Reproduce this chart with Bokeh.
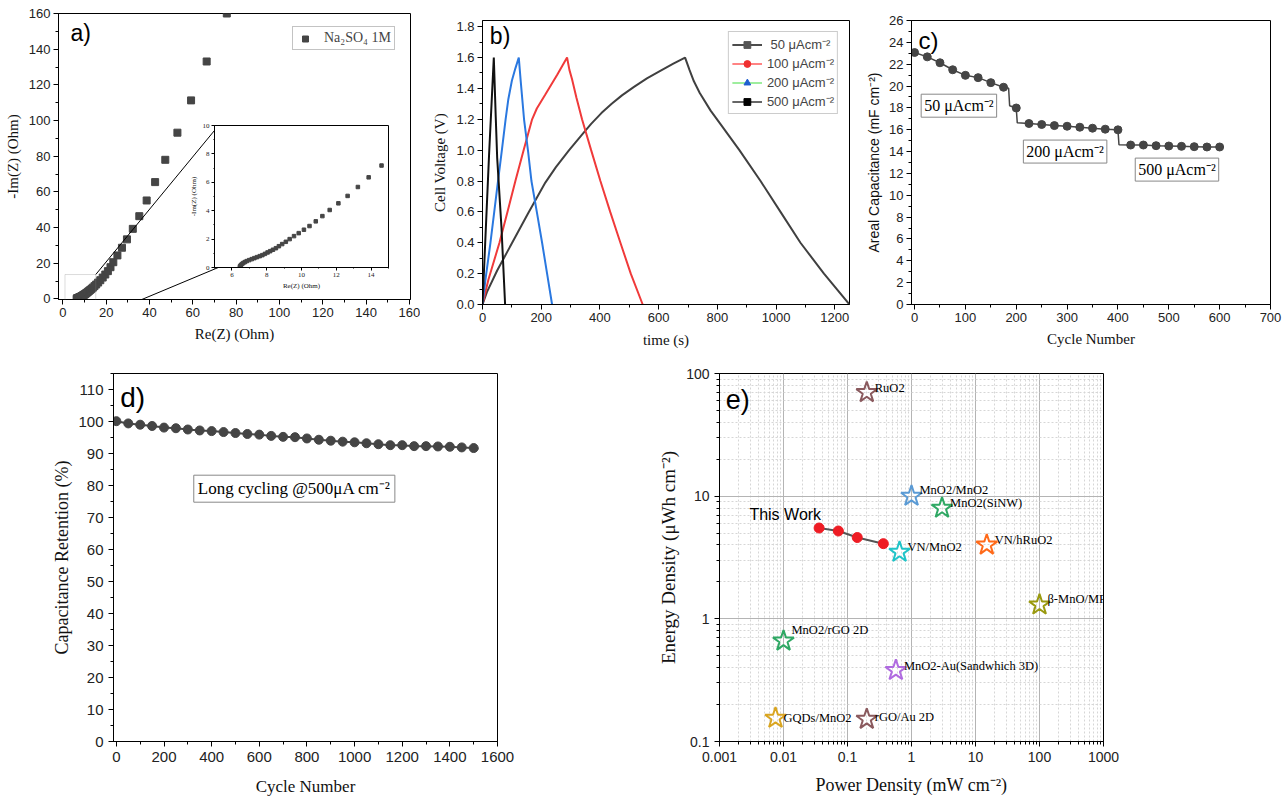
from bokeh.plotting import figure
from bokeh.models import (Range1d, Label, Legend, LegendItem, PrintfTickFormatter,
                          SingleIntervalTicker, CustomJSTickFormatter, BoxAnnotation)
from bokeh.layouts import row, column
from bokeh.embed import file_html
from bokeh.resources import INLINE
from bokeh.core.properties import value

SANS = "Liberation Sans"
SERIF = "Liberation Serif"
NAN = float("nan")

# ---------------- data ----------------
# a) Nyquist plot
re_z = [6.46, 6.47, 6.51, 6.57, 6.65, 6.74, 6.85, 6.99, 7.14, 7.29, 7.44, 7.60, 7.75, 7.90,
        8.05, 8.20, 8.36, 8.53, 8.70, 8.89, 9.10, 9.32, 9.57, 9.84, 10.14, 10.46, 10.82,
        11.20, 11.62, 12.12, 12.65, 13.24, 13.86, 14.60, 15.4, 16.3, 17.3, 18.4, 19.6,
        20.8, 22.0, 23.3, 25.2, 27.3, 29.6, 32.3, 35.3, 38.7, 42.6, 47.3, 52.9, 59.2, 66.4, 75.7]
im_z = [0.02, 0.09, 0.16, 0.24, 0.31, 0.38, 0.45, 0.52, 0.59, 0.66, 0.73, 0.80, 0.87, 0.96,
        1.06, 1.15, 1.25, 1.36, 1.50, 1.65, 1.81, 2.00, 2.21, 2.42, 2.66, 2.92, 3.25,
        3.62, 4.05, 4.52, 5.04, 5.67, 6.35, 7.18, 8.1, 9.2, 10.5, 12.0, 13.7,
        15.6, 17.8, 20.6, 24.4, 28.7, 33.4, 39.3, 46.4, 55.2, 65.5, 78.0, 93.2, 111.3, 133.1, 160.0]
# zoom box and connector lines (data coords of panel a)
zoom_box = dict(left=1.0, right=15.2, bottom=-11.1, top=13.7)
link_x0 = [15.2, 15.2]
link_y0 = [13.7, -11.1]
link_x1 = [72.1, 72.1]
link_y1 = [97.5, 17.8]

# b) galvanostatic charge/discharge
t_50 = [0, 15, 50, 101, 155, 214, 250, 295, 339, 370, 405, 440, 475, 516, 560, 607, 650, 690,
        705, 720, 740, 777, 810, 875, 947, 1015, 1083, 1163, 1250]
v_50 = [0, 0.08, 0.22, 0.40, 0.59, 0.79, 0.89, 1.00, 1.10, 1.17, 1.24, 1.30, 1.355, 1.41, 1.465,
        1.515, 1.56, 1.60, 1.52, 1.446, 1.37, 1.256, 1.17, 1.00, 0.80, 0.60, 0.40, 0.20, 0]
t_100 = [0, 20, 57.7, 85, 112, 140, 169, 185, 214, 255, 288, 296, 305, 320, 339, 370, 401.6,
         435, 469.7, 505, 545.6]
v_100 = [0, 0.16, 0.40, 0.60, 0.80, 1.00, 1.20, 1.27, 1.36, 1.49, 1.60, 1.52, 1.46, 1.34, 1.20,
         1.00, 0.80, 0.60, 0.40, 0.20, 0]
t_200 = [0, 10, 27, 40, 52.8, 66, 78.7, 88, 100, 112, 123.6, 130, 141.5, 156, 166.7, 185, 203,
         220, 237]
v_200 = [0, 0.16, 0.40, 0.60, 0.80, 1.00, 1.20, 1.33, 1.45, 1.53, 1.60, 1.45, 1.20, 0.98, 0.80,
         0.60, 0.40, 0.20, 0]
t_500 = [0, 22.6, 38.5, 45, 50, 64.6, 77]
v_500 = [0, 0.98, 1.60, 1.22, 0.95, 0.50, 0]
b_legend_labels = [" 50 \u03bcAcm\u207b\u00b2", "100 \u03bcAcm\u207b\u00b2",
                   "200 \u03bcAcm\u207b\u00b2", "500 \u03bcAcm\u207b\u00b2"]

# c) rate capability
c_cycles = [0, 25, 50, 75, 100, 125, 150, 175, 200, 225, 250, 275, 300, 325, 350, 375, 400,
            425, 450, 475, 500, 525, 550, 575, 600]
c_cap = [23.07, 22.67, 22.13, 21.49, 20.98, 20.77, 20.31, 19.89, 17.99, 16.57, 16.48, 16.38,
         16.32, 16.23, 16.14, 16.05, 15.99, 14.60, 14.60, 14.54, 14.51, 14.48, 14.45, 14.42, 14.42]
c_line_x = [0, 25, 50, 75, 100, 125, 150, 175, 185, 187, 200, 202, 225, 250, 275, 300, 325,
            350, 375, 400, 402, 425, 450, 475, 500, 525, 550, 575, 600]
c_line_y = [23.07, 22.67, 22.13, 21.49, 20.98, 20.77, 20.31, 19.89, 19.8, 18.2, 17.99, 16.63,
            16.57, 16.48, 16.38, 16.32, 16.23, 16.14, 16.05, 15.99, 14.62, 14.60, 14.60, 14.54,
            14.51, 14.48, 14.45, 14.42, 14.42]
c_box_labels = ["50 \u03bcAcm\u207b\u00b2", "200 \u03bcAcm\u207b\u00b2", "500 \u03bcAcm\u207b\u00b2"]

# d) long cycling
d_cycles = [0, 50, 100, 150, 200, 250, 300, 350, 400, 450, 500, 550, 600, 650, 700, 750, 800,
            850, 900, 950, 1000, 1050, 1100, 1150, 1200, 1250, 1300, 1350, 1400, 1450, 1500]
d_ret = [100.1, 99.4, 99.0, 98.6, 98.1, 97.9, 97.5, 97.2, 97.0, 96.7, 96.4, 96.1, 95.9, 95.5,
         95.2, 95.1, 94.7, 94.3, 94.0, 93.7, 93.5, 93.2, 92.9, 92.6, 92.6, 92.3, 92.3, 92.2,
         92.1, 91.9, 91.7]
d_line_end = (1520, 91.5)

# e) Ragone plot
tw_power = [0.036, 0.072, 0.142, 0.363]
tw_energy = [5.5, 5.2, 4.6, 4.1]
ref_names = ["RuO2", "MnO2/MnO2", "MnO2(SiNW)", "VN/MnO2", "VN/hRuO2", "\u03b2-MnO/MPC",
             "MnO2/rGO 2D", "MnO2-Au(Sandwhich 3D)", "GQDs/MnO2", "rGO/Au 2D"]
ref_power = [0.2, 1.0, 3.0, 0.65, 15, 100, 0.01, 0.57, 0.0075, 0.2]
ref_energy = [70, 10, 8, 3.5, 4, 1.3, 0.66, 0.38, 0.155, 0.152]
ref_colors = ["#8a5a5e", "#5b9bd5", "#2fa864", "#20c4c8", "#ff6a1a", "#9a9a10",
              "#2fa864", "#b06be0", "#d9a520", "#8a5a5e"]
ref_label_dy = [-5, -6, -5, -5, -5, -6, -11, -4, 0, -2]


# ---------------- helpers ----------------
def base_fig(width, height, xr, yr, l, r, t, b, **kw):
    p = figure(width=width, height=height, x_range=xr, y_range=yr,
               output_backend="svg", toolbar_location=None,
               min_border_left=l, min_border_right=r, min_border_top=t, min_border_bottom=b, **kw)
    p.background_fill_color = "white"
    p.border_fill_color = "white"
    p.outline_line_color = "black"
    p.outline_line_alpha = 1.0
    p.outline_line_width = 1
    p.grid.visible = False
    return p


def style_axis(ax, label, font, lsize, tsize, lstand, tstand=3, tick_font=SANS):
    ax.axis_label = label
    ax.axis_label_text_font = font
    ax.axis_label_text_font_size = f"{lsize}px"
    ax.axis_label_text_font_style = "normal"
    ax.axis_label_text_color = "#111111"
    ax.axis_label_standoff = lstand
    ax.major_label_text_font = tick_font
    ax.major_label_text_font_size = f"{tsize}px"
    ax.major_label_text_color = "#222222"
    ax.major_label_standoff = tstand
    ax.axis_line_color = "black"
    ax.major_tick_line_color = "black"
    ax.minor_tick_line_color = "black"
    ax.major_tick_in = 0
    ax.major_tick_out = 5
    ax.minor_tick_in = 0
    ax.minor_tick_out = 3


def tag(p, text, x, y, size):
    p.add_layout(Label(x=x, y=y, text=text, text_font=SANS, text_font_size=f"{size}px",
                       text_baseline="top", text_align="left", text_color="black"))


GRAY = "#454545"

# ---------------- panel a ----------------
pa = base_fig(420, 350, Range1d(-2, 160.5), Range1d(-0.3, 160), 50, 10, 13, 51)
pa.xaxis.ticker = SingleIntervalTicker(interval=20, num_minor_ticks=2)
pa.yaxis.ticker = SingleIntervalTicker(interval=20, num_minor_ticks=2)
style_axis(pa.xaxis[0], "Re(Z) (Ohm)", SERIF, 15, 13, 6)
style_axis(pa.yaxis[0], "-Im(Z) (Ohm)", SERIF, 15, 13, 5)
ra = pa.scatter(re_z, im_z, marker="square", size=7, color=GRAY)
pa.add_layout(BoxAnnotation(fill_alpha=0, line_color="#888888", line_width=1, **zoom_box))
pa.segment(link_x0, link_y0, link_x1, link_y1, line_color="black", line_width=1)
leg_a = Legend(items=[LegendItem(label="Na\u2082SO\u2084 1M", renderers=[ra])],
               location=(234, 249), label_text_font=SERIF, label_text_font_size="14px",
               border_line_color="#888888", padding=3, spacing=0, glyph_width=18,
               glyph_height=15, label_height=15, label_standoff=10, margin=0)
pa.add_layout(leg_a)
tag(pa, "a)", 3.5, 156.5, 23)

# inset of panel a
pin = base_fig(242, 181, Range1d(5, 15), Range1d(0, 10), 58, 6, 7, 32,
               margin=(-232, 0, 51, 156))
pin.border_fill_alpha = 0
pin.xaxis.ticker = SingleIntervalTicker(interval=2, num_minor_ticks=2)
pin.yaxis.ticker = SingleIntervalTicker(interval=2, num_minor_ticks=2)
style_axis(pin.xaxis[0], "Re(Z) (Ohm)", SERIF, 7, 7, 2, 2, SERIF)
style_axis(pin.yaxis[0], "-Im(Z) (Ohm)", SERIF, 7, 7, 2, 2, SERIF)
for ax in (pin.xaxis[0], pin.yaxis[0]):
    ax.major_tick_out = 3
    ax.minor_tick_out = 1
pin.scatter(re_z, im_z, marker="square", size=3.5, color=GRAY)

# ---------------- panel b ----------------
pb = base_fig(440, 350, Range1d(0, 1250), Range1d(0, 1.84), 62, 11, 14, 45)
pb.xaxis.ticker = SingleIntervalTicker(interval=200, num_minor_ticks=2)
pb.yaxis.ticker = SingleIntervalTicker(interval=0.2, num_minor_ticks=2)
pb.yaxis.formatter = PrintfTickFormatter(format="%.1f")
style_axis(pb.xaxis[0], "time (s)", SERIF, 15, 13, 7)
style_axis(pb.yaxis[0], "Cell Voltage (V)", SERIF, 15, 13, 5)
pb.line(t_50, v_50, line_color="#404040", line_width=2)
pb.line(t_100, v_100, line_color="#f03a3a", line_width=2)
pb.line(t_200, v_200, line_color="#2a78e0", line_width=2)
pb.line(t_500, v_500, line_color="#111111", line_width=2)
leg_specs = [("#111111", "#555555", "square"), ("#ff5a5a", "#f03030", "circle"),
             ("#7ee87e", "#1f5fd0", "triangle"), ("#333333", "#000000", "square")]
items = []
for lab, (lc, mc, mk) in zip(b_legend_labels, leg_specs):
    lr = pb.line([NAN], [NAN], line_color=lc, line_width=1.5)
    mr = pb.scatter([NAN], [NAN], marker=mk, size=9, color=mc)
    items.append(LegendItem(label=lab, renderers=[lr, mr]))
leg_b = Legend(items=items, location="top_right", margin=11, label_text_font=SANS,
               label_text_font_size="13px", border_line_color="#999999", padding=3,
               spacing=1, glyph_width=30, glyph_height=17, label_height=17, label_standoff=5)
pb.add_layout(leg_b)
tag(pb, "b)", 25, 1.825, 23)

# ---------------- panel c ----------------
pc = base_fig(427, 350, Range1d(-6, 700), Range1d(0, 26), 51, 17, 20, 43)
pc.xaxis.ticker = SingleIntervalTicker(interval=100, num_minor_ticks=2)
pc.yaxis.ticker = SingleIntervalTicker(interval=2, num_minor_ticks=2)
style_axis(pc.xaxis[0], "Cycle Number", SERIF, 15, 13, 6)
style_axis(pc.yaxis[0], "Areal Capacitance (mF cm\u207b\u00b2)", SANS, 14, 13, 4)
pc.line(c_line_x, c_line_y, line_color=GRAY, line_width=1.5)
pc.scatter(c_cycles, c_cap, marker="circle", size=8, color=GRAY)
for txt, lx, ly in zip(c_box_labels, [13, 214, 434], [18.2, 14.0, 12.35]):
    pc.add_layout(Label(x=lx, y=ly, text=txt, text_font=SERIF, text_font_size="16px",
                        text_baseline="middle", text_align="left", text_color="black",
                        border_line_color="#888888", background_fill_color="white",
                        padding=3))
tag(pc, "c)", 8, 25.4, 24)

# ---------------- panel d ----------------
pd_ = base_fig(640, 453, Range1d(-12, 1600), Range1d(0, 115), 113, 143, 13, 62)
pd_.xaxis.ticker = SingleIntervalTicker(interval=200, num_minor_ticks=2)
pd_.yaxis.ticker = SingleIntervalTicker(interval=10, num_minor_ticks=2)
style_axis(pd_.xaxis[0], "Cycle Number", SERIF, 17, 15, 12, 5)
style_axis(pd_.yaxis[0], "Capacitance Retention (%)", SERIF, 18, 15, 3, 5)
pd_.line(d_cycles + [d_line_end[0]], d_ret + [d_line_end[1]], line_color=GRAY, line_width=2)
pd_.scatter(d_cycles, d_ret, marker="circle", size=9, color=GRAY)
pd_.add_layout(Label(x=325, y=79, text="Long cycling @500\u03bcA cm\u207b\u00b2", text_font=SERIF,
                     text_font_size="17px", text_baseline="middle", text_align="left",
                     text_color="black", border_line_color="#888888",
                     background_fill_color="white", padding=4))
tag(pd_, "d)", 16, 112.5, 28)

# ---------------- panel e ----------------
pe = base_fig(647, 453, Range1d(0.001, 1000), Range1d(0.1, 100), 79, 184, 23, 62,
              x_axis_type="log", y_axis_type="log")
fmt = "return String(Number(tick.toPrecision(6)));"
pe.xaxis.formatter = CustomJSTickFormatter(code=fmt)
pe.yaxis.formatter = CustomJSTickFormatter(code=fmt)
style_axis(pe.xaxis[0], "Power Density (mW cm\u207b\u00b2)", SERIF, 18, 14, 10, 5)
style_axis(pe.yaxis[0], "Energy Density (\u03bcWh cm\u207b\u00b2)", SERIF, 19, 14, 4, 5)
for g in (pe.xgrid[0], pe.ygrid[0]):
    g.visible = True
    g.grid_line_color = "#b4b4b4"
    g.grid_line_width = 1
    g.minor_grid_line_color = "#d6d6d6"
    g.minor_grid_line_dash = "2 2"
pe.line(tw_power, tw_energy, line_color="#555555", line_width=2)
pe.scatter(tw_power, tw_energy, marker="circle", size=10, color="#ee1c24")
pe.scatter(ref_power, ref_energy, marker="star", size=22, fill_alpha=0,
           line_color=ref_colors, line_width=2)
pe.text(ref_power, ref_energy, text=ref_names, x_offset=8, y_offset=ref_label_dy,
        text_font=value(SERIF), text_font_size="12.5px", text_baseline="middle",
        text_align="left", text_color="black")
pe.text([tw_power[0]], [tw_energy[0]], text=["This Work"], x_offset=2, y_offset=-5,
        text_font=value(SANS), text_font_size="16px", text_baseline="bottom",
        text_align="right", text_color="black")
tag(pe, "e)", 0.00125, 80, 27)

layout = column(row(column(pa, pin), pb, pc), row(pd_, pe))
open("out.html", "w").write(file_html(layout, INLINE))
